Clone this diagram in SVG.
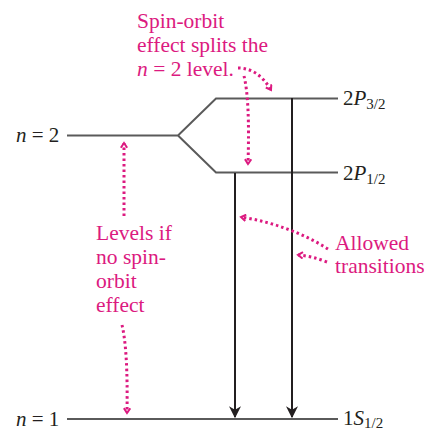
<svg xmlns="http://www.w3.org/2000/svg" width="424" height="431" viewBox="0 0 424 431">
<defs>
<style>
.lvl{stroke:#5a5a5a;stroke-width:2;fill:none}
.tr{stroke:#231f20;stroke-width:2;fill:none}
.dot{stroke:#dc1a80;stroke-width:3;stroke-dasharray:2.5 3;fill:none}
.lab{font-family:"Liberation Serif",serif;font-size:21px;fill:#231f20}
.pink{font-family:"Liberation Serif",serif;font-size:21.5px;fill:#dc1a80}
.it{font-style:italic}
.sub{font-size:15px;font-style:normal}
</style>
<marker id="ah" viewBox="0 0 10 10" refX="9" refY="5" markerWidth="12" markerHeight="12" markerUnits="userSpaceOnUse" orient="auto">
<path d="M0,0 L10,5 L0,10 L3,5 Z" fill="#231f20"/>
</marker>
<marker id="pa" viewBox="0 0 10 10" refX="8" refY="5" markerWidth="8" markerHeight="8" markerUnits="userSpaceOnUse" orient="auto">
<path d="M2,1 L8,5 L2,9" fill="none" stroke="#dc1a80" stroke-width="2.5"/>
</marker>
</defs>
<g id="levels">
<g id="n2"><path class="lvl" d="M67,135.5 H178 L216,98.5 H338 M178,135.5 L216,172.5 H338"/></g>
<g id="n1"><path class="lvl" d="M67,419 H338"/></g>
</g>
<g id="connectors">
<path class="tr" d="M235,173 V417" marker-end="url(#ah)"/>
<path class="tr" d="M292,98 V417" marker-end="url(#ah)"/>
<path class="dot" d="M238,68 Q258,68 271,90" marker-end="url(#pa)"/>
<path class="dot" d="M244,76 Q250,100 248,164" marker-end="url(#pa)"/>
<path class="dot" d="M124,216 V143" marker-end="url(#pa)"/>
<path class="dot" d="M122,325 Q128,350 127,413" marker-end="url(#pa)"/>
<path class="dot" d="M328,249 Q290,225 241,217" marker-end="url(#pa)"/>
<path class="dot" d="M327,262 Q312,256 298,255" marker-end="url(#pa)"/>
</g>
<g id="labels">
<text class="lab" x="16" y="142"><tspan class="it">n</tspan> = 2</text>
<text class="lab" x="16" y="426"><tspan class="it">n</tspan> = 1</text>
<text class="lab" x="343" y="105">2<tspan class="it">P</tspan><tspan class="sub" dy="4">3/2</tspan></text>
<text class="lab" x="343" y="180">2<tspan class="it">P</tspan><tspan class="sub" dy="4">1/2</tspan></text>
<text class="lab" x="343" y="425">1<tspan class="it">S</tspan><tspan class="sub" dy="3">1/2</tspan></text>
</g>
<g id="notes">
<text class="pink" x="137" y="28">Spin-orbit</text>
<text class="pink" x="137" y="52">effect splits the</text>
<text class="pink" x="137" y="76"><tspan class="it">n</tspan> = 2 level.</text>
<text class="pink" x="96" y="240">Levels if</text>
<text class="pink" x="96" y="264">no spin-</text>
<text class="pink" x="96" y="288">orbit</text>
<text class="pink" x="96" y="312">effect</text>
<text class="pink" x="335" y="250">Allowed</text>
<text class="pink" x="335" y="273" font-size="20.5">transitions</text>
</g>
</svg>
